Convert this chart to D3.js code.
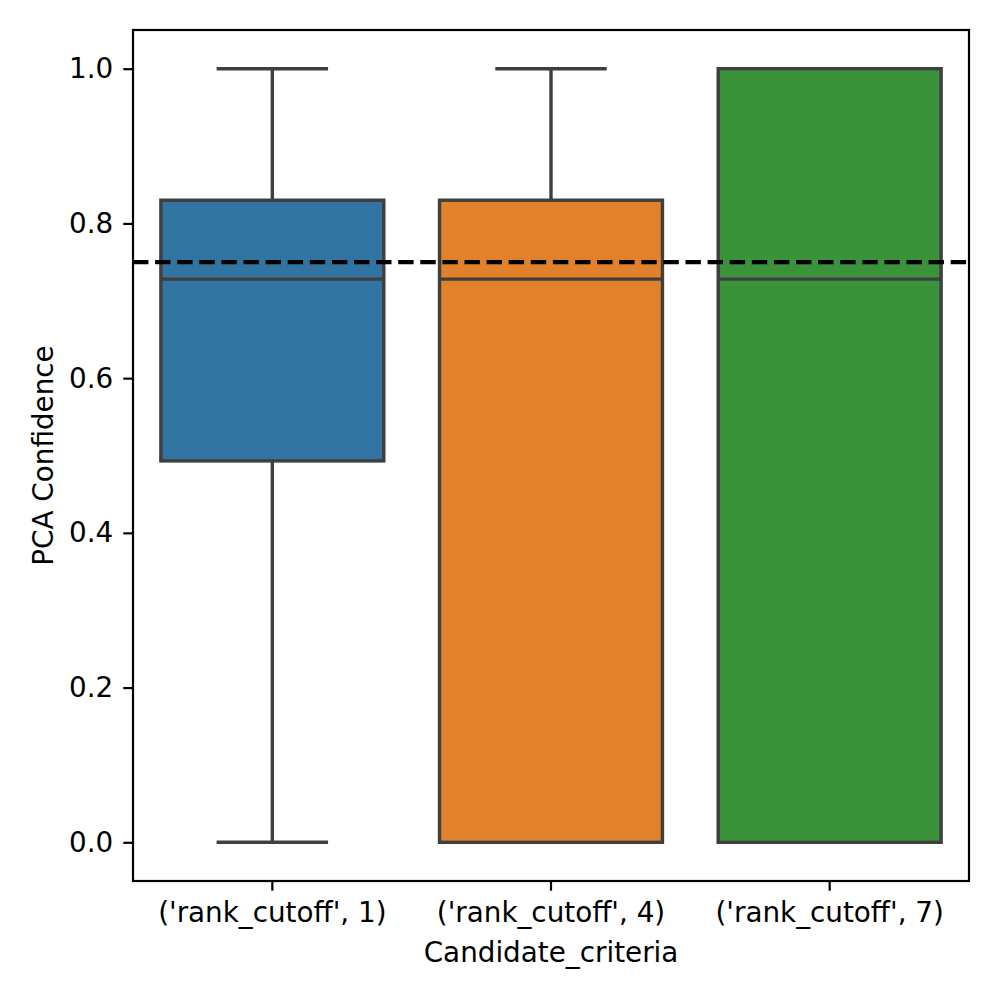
<!DOCTYPE html>
<html>
<head>
<meta charset="utf-8">
<script src="https://cdn.jsdelivr.net/npm/d3@7"></script>
<style>
  body { margin: 0; background: #fff; }
  text { font-family: "DejaVu Sans", sans-serif; }
</style>
</head>
<body>
<svg id="chart" width="1000" height="1000"></svg>
<script>
// categories and box statistics (whisker low, q1, median, q3, whisker high)
const categories = ["('rank_cutoff', 1)", "('rank_cutoff', 4)", "('rank_cutoff', 7)"];
const whiskerLow = [0, 0, 0];
const q1 = [0.493, 0, 0];
const median = [0.728, 0.728, 0.728];
const q3 = [0.83, 0.83, 1.0];
const whiskerHigh = [1.0, 1.0, 1.0];
const colors = ["#3274a1", "#e1812c", "#3a923a"];
const threshold = 0.75;
const yTicks = [0, 0.2, 0.4, 0.6, 0.8, 1.0];

const cfg = {
  left: 133, right: 969, top: 30, bottom: 881,
  lineColor: "#3f3f3f",
  lineWidth: 3.4,
  fontSize: 27.8,
  tickLen: 9.7,
};

const svg = d3.select("#chart");

const x = d3.scaleBand()
  .domain(categories)
  .range([cfg.left, cfg.right])
  .paddingInner(0)
  .paddingOuter(0);

const y = d3.scaleLinear()
  .domain([-0.05, 1.05])
  .range([cfg.bottom, cfg.top]);

const boxW = x.bandwidth() * 0.8;
const capW = boxW / 2;

const data = categories.map((c, i) => ({
  cat: c, lo: whiskerLow[i], q1: q1[i], med: median[i], q3: q3[i], hi: whiskerHigh[i], color: colors[i],
}));

const g = svg.append("g").attr("class", "boxes");

data.forEach((d) => {
  const cx = x(d.cat) + x.bandwidth() / 2;
  const bg = g.append("g");
  // whiskers
  bg.append("line")
    .attr("x1", cx).attr("x2", cx)
    .attr("y1", y(d.q3)).attr("y2", y(d.hi))
    .attr("stroke", cfg.lineColor).attr("stroke-width", cfg.lineWidth);
  bg.append("line")
    .attr("x1", cx).attr("x2", cx)
    .attr("y1", y(d.q1)).attr("y2", y(d.lo))
    .attr("stroke", cfg.lineColor).attr("stroke-width", cfg.lineWidth);
  // caps
  [d.lo, d.hi].forEach((v) => {
    bg.append("line")
      .attr("x1", cx - capW / 2).attr("x2", cx + capW / 2)
      .attr("y1", y(v)).attr("y2", y(v))
      .attr("stroke", cfg.lineColor).attr("stroke-width", cfg.lineWidth);
  });
  // box
  bg.append("rect")
    .attr("x", cx - boxW / 2)
    .attr("y", y(d.q3))
    .attr("width", boxW)
    .attr("height", y(d.q1) - y(d.q3))
    .attr("fill", d.color)
    .attr("stroke", cfg.lineColor)
    .attr("stroke-width", cfg.lineWidth);
  // median
  bg.append("line")
    .attr("x1", cx - boxW / 2).attr("x2", cx + boxW / 2)
    .attr("y1", y(d.med)).attr("y2", y(d.med))
    .attr("stroke", cfg.lineColor).attr("stroke-width", cfg.lineWidth);
});

// threshold line
svg.append("line")
  .attr("x1", cfg.left).attr("x2", cfg.right)
  .attr("y1", y(threshold)).attr("y2", y(threshold))
  .attr("stroke", "#000")
  .attr("stroke-width", 4.2)
  .attr("stroke-dasharray", "15.4,6.7");

// frame
svg.append("rect")
  .attr("x", cfg.left).attr("y", cfg.top)
  .attr("width", cfg.right - cfg.left)
  .attr("height", cfg.bottom - cfg.top)
  .attr("fill", "none")
  .attr("stroke", "#000")
  .attr("stroke-width", 2.2);

// axes
const yAxis = svg.append("g")
  .attr("transform", `translate(${cfg.left},0)`)
  .call(d3.axisLeft(y).tickValues(yTicks).tickFormat(d3.format(".1f"))
    .tickSizeOuter(0).tickSize(cfg.tickLen).tickPadding(10));
const xAxis = svg.append("g")
  .attr("transform", `translate(0,${cfg.bottom})`)
  .call(d3.axisBottom(x).tickSizeOuter(0).tickSize(cfg.tickLen).tickPadding(9.7));

[xAxis, yAxis].forEach((a) => {
  a.select(".domain").remove();
  a.selectAll(".tick line").attr("stroke", "#000").attr("stroke-width", 2.2);
  a.selectAll(".tick text")
    .attr("fill", "#000")
    .style("font-family", "'DejaVu Sans', sans-serif")
    .style("font-size", `${cfg.fontSize}px`);
});
xAxis.selectAll(".tick text").attr("dy", null).attr("y", 922 - cfg.bottom);

// labels
svg.append("text")
  .attr("x", (cfg.left + cfg.right) / 2)
  .attr("y", 962)
  .attr("text-anchor", "middle")
  .style("font-size", `${cfg.fontSize}px`)
  .text("Candidate_criteria");

svg.append("text")
  .attr("transform", `translate(53,${(cfg.top + cfg.bottom) / 2}) rotate(-90)`)
  .attr("text-anchor", "middle")
  .style("font-size", `${cfg.fontSize}px`)
  .text("PCA Confidence");
</script>
</body>
</html>
